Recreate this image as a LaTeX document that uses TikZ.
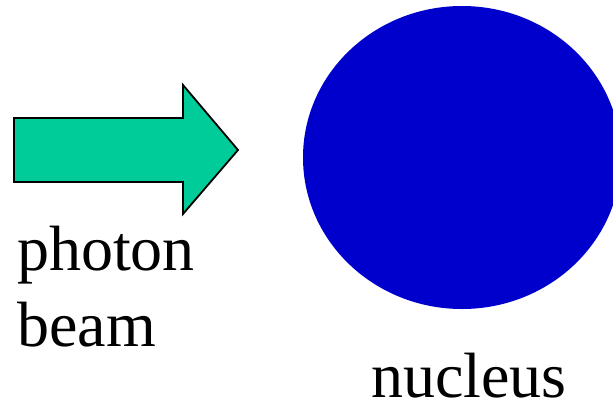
\documentclass[tikz,border=0pt]{standalone}
\usepackage{fontspec}
\setmainfont{Liberation Serif}
\definecolor{beamgreen}{RGB}{0,204,153}
\definecolor{nucblue}{RGB}{0,0,204}
\tikzset{
  label text/.style={font=\fontsize{64}{76}\selectfont, inner sep=0pt, align=left},
}
\begin{document}
\begin{tikzpicture}[x=1pt,y=-1pt]
\useasboundingbox (0,0) rectangle (613,405);
% photon beam arrow
\draw[line width=1.8pt, line join=miter, fill=beamgreen]
  (14,118) -- (183,118) -- (183,85) -- (238,150) -- (183,214) -- (183,182) -- (14,182) -- cycle;
% nucleus
\fill[nucblue] (462,157.5) ellipse [x radius=159, y radius=151.5];
% labels
\node[label text, anchor=base west] (photon) at (17,270) {photon};
\node[label text, anchor=base west] (beam) at (17,346) {beam};
\node[label text, anchor=base west, text depth=0pt] (nucleus) at (371,397) {nucleus};
\end{tikzpicture}
\end{document}
